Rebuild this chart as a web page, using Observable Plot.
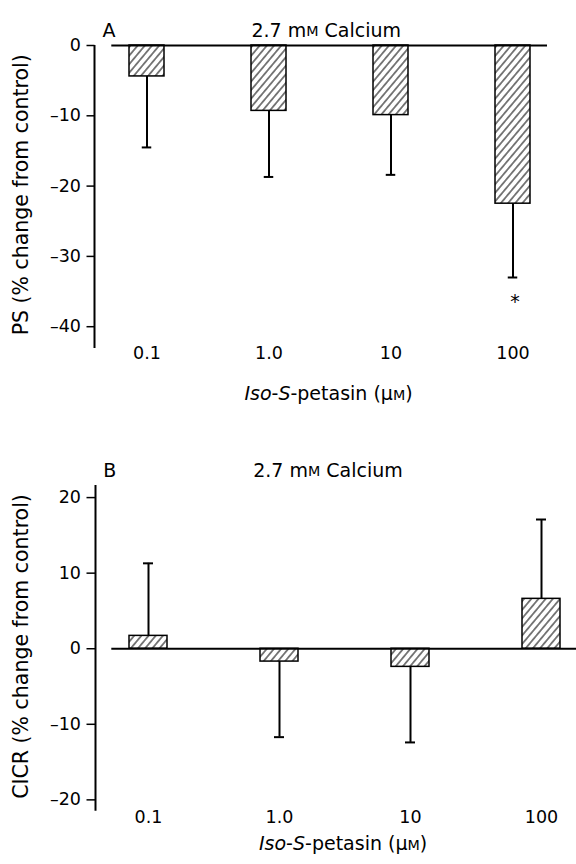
<!DOCTYPE html>
<html>
<head>
<meta charset="utf-8">
<script src="https://cdn.jsdelivr.net/npm/d3@7"></script>
<script src="https://cdn.jsdelivr.net/npm/@observablehq/plot@0.6"></script>
<style>
  html, body { margin: 0; padding: 0; background: #fff; }
  svg { display: block; }
</style>
</head>
<body>
<div id="chart"></div>
<script>
// ---- data ----
const concentrations = ["0.1", "1.0", "10", "100"];
const psMean = [-4.4, -9.3, -9.9, -22.5];
const psError = [-14.5, -18.7, -18.4, -33.0];
const psSignificance = ["", "", "", "*"];
const cicrMean = [1.7, -1.7, -2.4, 6.6];
const cicrError = [11.3, -11.7, -12.4, 17.1];
const cicrSignificance = ["", "", "", ""];
const psTicks = [0, -10, -20, -30, -40];
const cicrTicks = [20, 10, 0, -10, -20];
const panelLetters = ["A", "B"];
const panelTitle = "2.7 mM Calcium";
const xLabel = "Iso-S-petasin (μM)";
const psLabel = "PS (% change from control)";
const cicrLabel = "CICR (% change from control)";

const FONT = "DejaVu Sans";
const fmt = d => d < 0 ? "\u2013" + Math.abs(d) : String(d);

function richText(svg, plain, parts) {
  d3.select(svg).selectAll("text")
    .filter(function () { return this.textContent === plain; })
    .each(function () {
      const t = d3.select(this);
      t.text(null);
      for (const [s, attrs] of parts) {
        const ts = t.append("tspan").text(s);
        if (attrs) for (const k in attrs) ts.attr(k, attrs[k]);
      }
    });
}

function panel(cfg) {
  const data = concentrations.map((c, i) => ({conc: c, value: cfg.mean[i], err: cfg.err[i], sig: cfg.sig[i]}));
  const axisLine = (index, scales, values, dims, context) => {
    const line = context.document.createElementNS("http://www.w3.org/2000/svg", "line");
    line.setAttribute("x1", dims.marginLeft);
    line.setAttribute("x2", dims.marginLeft);
    line.setAttribute("y1", dims.marginTop);
    line.setAttribute("y2", dims.height - dims.marginBottom);
    line.setAttribute("stroke", "black");
    line.setAttribute("stroke-width", 2);
    return line;
  };
  const svg = Plot.plot({
    width: 576,
    height: cfg.height,
    marginLeft: cfg.marginLeft,
    marginRight: cfg.marginRight,
    marginTop: cfg.marginTop,
    marginBottom: cfg.marginBottom,
    style: {fontFamily: FONT, fontSize: "17.5px", color: "black", background: "white"},
    x: {type: "band", domain: concentrations, range: cfg.xRange, paddingInner: cfg.pad, paddingOuter: 0, align: 0.5},
    y: {domain: cfg.yDomain},
    marks: [
      Plot.barY(data, {x: "conc", y1: 0, y2: "value", fill: `url(#${cfg.id})`, stroke: "black", strokeWidth: 1.5}),
      Plot.ruleX(data, {x: "conc", y1: "value", y2: "err", strokeWidth: 2}),
      Plot.tickY(data, {x: "conc", y: "err", insetLeft: cfg.capInset, insetRight: cfg.capInset, strokeWidth: 2}),
      Plot.ruleY([0], {insetLeft: cfg.zeroInset, strokeWidth: 2}),
      Plot.axisY({ticks: cfg.ticks, tickSize: cfg.tickSize, tickPadding: 6, tickFormat: fmt, strokeWidth: 1.5, label: null}),
      Plot.axisX({tickSize: 0, tickPadding: cfg.xTickPadding, label: null}),
      axisLine,
      Plot.text([cfg.letter], {text: d => d, frameAnchor: "top-left", textAnchor: "middle", dx: cfg.letterDx, dy: -22.5, fontSize: 19}),
      Plot.text([panelTitle], {text: d => d, frameAnchor: "top", textAnchor: "middle", dx: cfg.titleDx, dy: -22.5, fontSize: 19}),
      Plot.text([xLabel], {text: d => d, frameAnchor: "bottom", textAnchor: "middle", dx: cfg.xLabelDx, dy: cfg.xLabelDy, fontSize: 19}),
      Plot.text([cfg.yLabel], {text: d => d, frameAnchor: "left", textAnchor: "middle", rotate: -90, dx: cfg.yLabelDx, dy: cfg.yLabelDy, fontSize: 20.5}),
      Plot.text(data, {x: "conc", y: "err", text: "sig", dx: 2, dy: 24, fontSize: 19})
    ]
  });
  const defs = d3.select(svg).insert("defs", ":first-child");
  const s = 5.5;
  const pat = defs.append("pattern").attr("id", cfg.id)
    .attr("patternUnits", "userSpaceOnUse").attr("width", s).attr("height", s)
    .attr("patternTransform", "rotate(40)");
  pat.append("rect").attr("width", s).attr("height", s).attr("fill", "white");
  pat.append("line").attr("x1", s / 2).attr("x2", s / 2).attr("y1", 0).attr("y2", s)
    .attr("stroke", "black").attr("stroke-width", 1);
  richText(svg, panelTitle, [["2.7 m"], ["M", {"font-size": "0.75em"}], [" Calcium"]]);
  richText(svg, xLabel, [["Iso", {"font-style": "italic"}], ["-"], ["S", {"font-style": "italic"}], ["-petasin (μ"], ["M", {"font-size": "0.75em"}], [")"]]);
  return svg;
}

const chart = document.getElementById("chart");
chart.append(panel({
  id: "hatchA", letter: panelLetters[0], yLabel: psLabel,
  mean: psMean, err: psError, sig: psSignificance, ticks: psTicks,
  height: 432, marginLeft: 94.5, marginRight: 29, marginTop: 45, marginBottom: 84,
  xRange: [127.35, 531.2], pad: 0.711, yDomain: [-43.1, 0],
  capInset: 12.75, zeroInset: 16.8, tickSize: 8, xTickPadding: -2.2,
  letterDx: 14, titleDx: 5, xLabelDx: 7.25, xLabelDy: 51.3, yLabelDx: -73.8, yLabelDy: -2.2
}));
chart.append(panel({
  id: "hatchB", letter: panelLetters[1], yLabel: cicrLabel,
  mean: cicrMean, err: cicrError, sig: cicrSignificance, ticks: cicrTicks,
  height: 432, marginLeft: 95.5, marginRight: 0, marginTop: 53, marginBottom: 53.3,
  xRange: [129.4, 560.4], pad: 0.71, yDomain: [-21.5, 21.6],
  capInset: 14, zeroInset: 15.8, tickSize: 9, xTickPadding: -0.4,
  letterDx: 13.8, titleDx: -8.25, xLabelDx: 6.85, xLabelDy: 38.6, yLabelDx: -74.8, yLabelDy: -1.85
}));
</script>
</body>
</html>
